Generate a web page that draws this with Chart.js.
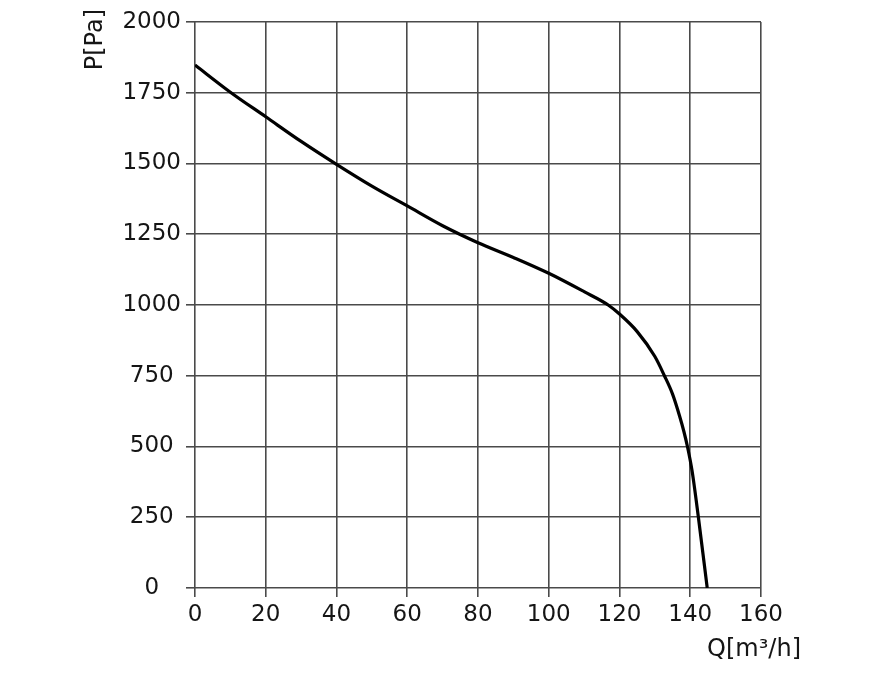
<!DOCTYPE html>
<html lang="en">
<head>
  <meta charset="UTF-8" />
  <title>Fan curve</title>
  <script src="https://cdn.jsdelivr.net/npm/chart.js"></script>
  <style>
    html, body { margin: 0; padding: 0; background: #fff; }
    #wrap { width: 875px; height: 673px; position: relative; }
  </style>
</head>
<body>
  <div id="wrap"><canvas id="fanChart"></canvas></div>

  <script>
    // values
    const flowQ = [0, 10, 20, 30, 40, 50, 60, 70, 80, 90, 100, 110, 116.8, 120, 125, 130, 132.7, 135, 137, 138.2, 139.2, 140.5, 142.3, 144.8];
    const pressureP = [1848, 1752, 1665, 1578, 1497, 1420, 1350, 1280, 1220, 1168, 1112, 1047, 1000, 968, 906, 818, 750, 685, 607, 553, 500, 415, 250, 0];
    const xTicks = [0, 20, 40, 60, 80, 100, 120, 140, 160];
    const yTicks = [0, 250, 500, 750, 1000, 1250, 1500, 1750, 2000];
    const xTitle = 'Q[m³/h]';
    const yTitle = 'P[Pa]';

    const font = 'DejaVu Sans';
    const gridColor = '#4a4a4a';
    const textColor = '#151515';

    // axis titles sit past the ends of the axes, so draw them by hand
    const axisTitles = {
      id: 'axisTitles',
      afterDraw(chart) {
        const { ctx, chartArea } = chart;
        ctx.save();
        ctx.fillStyle = textColor;
        ctx.font = '24px "' + font + '"';
        ctx.textBaseline = 'middle';
        ctx.textAlign = 'right';
        ctx.fillText(xTitle, chartArea.right + 40, 650);
        ctx.translate(96, 9);
        ctx.rotate(-Math.PI / 2);
        ctx.fillText(yTitle, 0, 0);
        ctx.restore();
      }
    };

    new Chart(document.getElementById('fanChart'), {
      type: 'line',
      data: {
        datasets: [{
          data: flowQ.map((q, i) => ({ x: q, y: pressureP[i] })),
          borderColor: '#000',
          borderWidth: 3.2,
          pointRadius: 0,
          fill: false,
          cubicInterpolationMode: 'monotone'
        }]
      },
      options: {
        responsive: true,
        maintainAspectRatio: false,
        animation: false,
        layout: { padding: { top: 22, right: 114, left: 0, bottom: 0 } },
        plugins: {
          legend: { display: false },
          tooltip: { enabled: false }
        },
        scales: {
          x: {
            type: 'linear',
            min: 0,
            max: 160,
            afterBuildTicks: s => { s.ticks = xTicks.map(v => ({ value: v })); },
            afterFit: s => { s.height = 85; },
            grid: { color: gridColor, lineWidth: 1.6, tickLength: 9, drawTicks: true },
            border: { display: false },
            ticks: {
              color: textColor,
              padding: 4,
              maxRotation: 0,
              callback: v => String(v),
              font: { family: font, size: 23 }
            }
          },
          y: {
            type: 'linear',
            min: 0,
            max: 2000,
            afterBuildTicks: s => { s.ticks = yTicks.map(v => ({ value: v })); },
            afterFit: s => { s.width = 195; },
            grid: { color: gridColor, lineWidth: 1.6, tickLength: 9, drawTicks: true },
            border: { display: false },
            ticks: {
              color: textColor,
              padding: 5,
              crossAlign: 'center',
              callback: v => String(v),
              font: { family: font, size: 23 }
            }
          }
        }
      },
      plugins: [axisTitles]
    });
  </script>
</body>
</html>
